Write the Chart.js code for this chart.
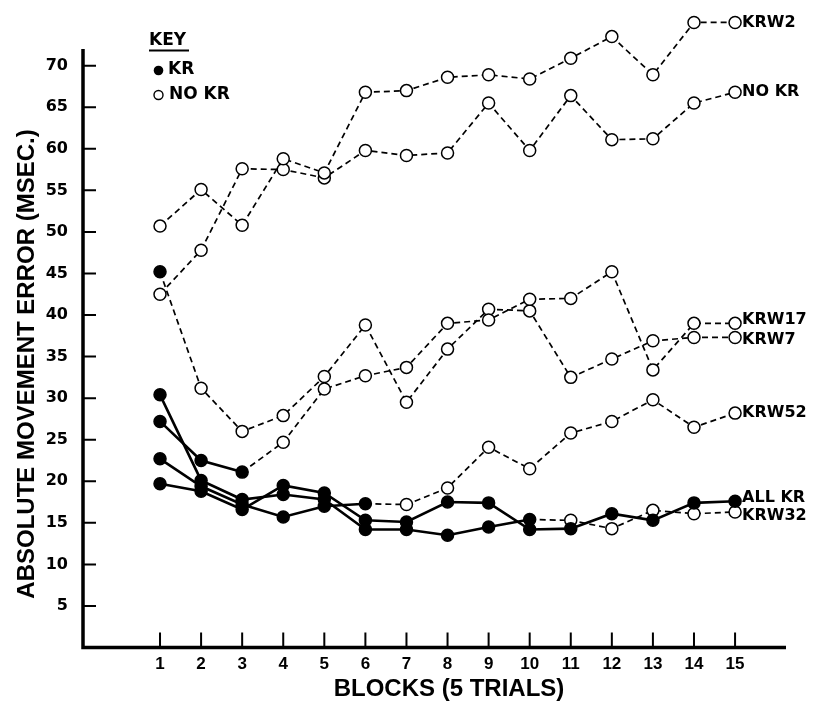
<!DOCTYPE html>
<html>
<head>
<meta charset="utf-8">
<script src="https://cdn.jsdelivr.net/npm/chart.js@4.4.1/dist/chart.umd.min.js"></script>
<style>
  html, body { margin: 0; padding: 0; background: #fff; }
  canvas { display: block; }
</style>
</head>
<body>
<canvas id="c" width="819" height="702"></canvas>
<script>
// Blocks of 5 trials and the y-axis tick values
const blocks = [1, 2, 3, 4, 5, 6, 7, 8, 9, 10, 11, 12, 13, 14, 15];
const yTickValues = [5, 10, 15, 20, 25, 30, 35, 40, 45, 50, 55, 60, 65, 70];

// Absolute movement error (msec) per block, one array per group
const krw2  = [50.7, 55.1, 50.8, 58.8, 57.1, 66.8, 67.0, 68.6, 68.9, 68.4, 70.9, 73.5, 68.9, 75.2, 75.2];
const noKr  = [42.5, 47.8, 57.6, 57.5, 56.5, 59.8, 59.2, 59.5, 65.5, 59.8, 66.4, 61.1, 61.2, 65.5, 66.8];
const krw17 = [27.2, 22.5, 21.1, 24.7, 31.1, 32.7, 33.7, 39.0, 39.4, 41.9, 42.0, 45.2, 33.4, 39.0, 39.0];
const krw7  = [45.2, 31.2, 26.0, 27.9, 32.6, 38.8, 29.5, 35.9, 40.7, 40.5, 32.5, 34.7, 36.9, 37.3, 37.3];
const krw52 = [22.7, 19.4, 17.2, 15.7, 17.0, 17.3, 17.2, 19.2, 24.1, 21.5, 25.8, 27.2, 29.8, 26.5, 28.2];
const allKr = [19.7, 18.8, 16.6, 19.5, 18.6, 15.3, 15.1, 17.5, 17.4, 14.2, 14.3, 16.1, 15.3, 17.4, 17.6];
const krw32 = [30.4, 20.1, 17.8, 18.4, 17.8, 14.2, 14.2, 13.5, 14.5, 15.4, 15.3, 14.3, 16.5, 16.1, 16.3];

// Group names and how many leading blocks were run with KR (filled markers)
const seriesNames  = ['KRW2', 'NO KR', 'KRW17', 'KRW7', 'KRW52', 'ALL KR', 'KRW32'];
const seriesValues = [krw2, noKr, krw17, krw7, krw52, allKr, krw32];
const krBlockCount = [0, 0, 3, 1, 6, 15, 10];

// Small vertical nudges for the end-of-line names where lines sit close together
const labelNudge = { 'KRW17': -4, 'KRW7': 2, 'ALL KR': -3, 'KRW32': 4 };

const BOLD = '"DejaVu Sans", sans-serif';
const HELV = '"Liberation Sans", Arial, sans-serif';

function makeDataset(name, values, kr) {
  const isOpen = i => i >= kr;
  return {
    label: name,
    data: blocks.map((b, i) => ({ x: b, y: values[i] })),
    borderColor: '#000',
    borderWidth: 1.7,
    pointRadius: 6,
    pointHoverRadius: 6,
    pointBorderWidth: 1.5,
    pointBorderColor: '#000',
    pointBackgroundColor: values.map((v, i) => isOpen(i) ? '#fff' : '#000'),
    tension: 0,
    fill: false,
    clip: false,
    segment: {
      borderDash: ctx => isOpen(ctx.p1DataIndex) ? [6, 4] : [],
      borderWidth: ctx => isOpen(ctx.p1DataIndex) ? 1.7 : 2.6
    }
  };
}

const frame = {
  id: 'frame',
  beforeDatasetsDraw(chart) {
    const { ctx, chartArea } = chart;
    const x = chart.scales.x, y = chart.scales.y;
    const x0 = chartArea.left, y0 = y.getPixelForValue(0);
    ctx.save();
    ctx.strokeStyle = '#000';
    ctx.lineWidth = 3.5;
    ctx.beginPath();
    ctx.moveTo(x0, y.getPixelForValue(72));
    ctx.lineTo(x0, y0 + 1.75);
    ctx.moveTo(x0 - 1.75, y0);
    ctx.lineTo(chartArea.right, y0);
    ctx.stroke();
    ctx.lineWidth = 2;
    ctx.beginPath();
    y.ticks.forEach(t => {
      const py = y.getPixelForValue(t.value);
      ctx.moveTo(x0, py); ctx.lineTo(x0 + 13, py);
    });
    x.ticks.forEach(t => {
      const px = x.getPixelForValue(t.value);
      ctx.moveTo(px, y0); ctx.lineTo(px, y0 - 15);
    });
    ctx.stroke();
    ctx.restore();
  },
  afterDraw(chart) {
    const { ctx } = chart;
    ctx.save();
    ctx.fillStyle = '#000';
    ctx.strokeStyle = '#000';

    // Axis titles
    ctx.font = 'bold 24px ' + HELV;
    ctx.textAlign = 'center';
    ctx.textBaseline = 'middle';
    ctx.fillText('BLOCKS (5 TRIALS)', 449, 689);
    ctx.save();
    ctx.translate(27.5, 364);
    ctx.rotate(-Math.PI / 2);
    ctx.fillText('ABSOLUTE MOVEMENT ERROR (MSEC.)', 0, 0);
    ctx.restore();

    // Key
    ctx.textAlign = 'left';
    ctx.font = 'bold 17px ' + BOLD;
    ctx.fillText('KEY', 149, 41);
    ctx.lineWidth = 2;
    ctx.beginPath();
    ctx.moveTo(149, 50.5); ctx.lineTo(189, 50.5);
    ctx.stroke();
    ctx.beginPath();
    ctx.arc(158.5, 70.5, 4.8, 0, Math.PI * 2);
    ctx.fill();
    ctx.fillText('KR', 168, 70);
    ctx.lineWidth = 1.4;
    ctx.beginPath();
    ctx.arc(158.5, 95, 4.5, 0, Math.PI * 2);
    ctx.stroke();
    ctx.fillText('NO KR', 169, 95);

    // Group names at the end of each line
    ctx.font = 'bold 16px ' + BOLD;
    chart.data.datasets.forEach((ds, i) => {
      const pts = chart.getDatasetMeta(i).data;
      const last = pts[pts.length - 1];
      ctx.fillText(ds.label, last.x + 7, last.y + (labelNudge[ds.label] || 0));
    });
    ctx.restore();
  }
};

new Chart(document.getElementById('c'), {
  type: 'line',
  data: {
    datasets: seriesNames.map((n, i) => makeDataset(n, seriesValues[i], krBlockCount[i]))
  },
  options: {
    responsive: false,
    devicePixelRatio: 1,
    animation: false,
    events: [],
    layout: { padding: { left: 0, top: 1.5, right: 33, bottom: 0 } },
    plugins: { legend: { display: false }, tooltip: { enabled: false } },
    scales: {
      x: {
        type: 'linear',
        min: -0.875,
        max: 16.24,
        afterBuildTicks: s => { s.ticks = blocks.map(v => ({ value: v })); },
        afterFit: s => { s.height = 54.5; s.paddingLeft = 0; s.paddingRight = 0; },
        grid: { display: false, drawTicks: false },
        border: { display: false },
        ticks: {
          autoSkip: false, maxRotation: 0, padding: 7, color: '#000',
          font: { family: HELV, weight: 'bold', size: 17 }
        }
      },
      y: {
        type: 'linear',
        min: 0,
        max: 77,
        afterBuildTicks: s => { s.ticks = yTickValues.map(v => ({ value: v })); },
        afterFit: s => { s.width = 83; s.paddingTop = 0; s.paddingBottom = 0; },
        grid: { display: false, drawTicks: false },
        border: { display: false },
        ticks: {
          padding: 15, color: '#000',
          font: { family: BOLD, weight: 'bold', size: 16 }
        }
      }
    }
  },
  plugins: [frame]
});
</script>
</body>
</html>
